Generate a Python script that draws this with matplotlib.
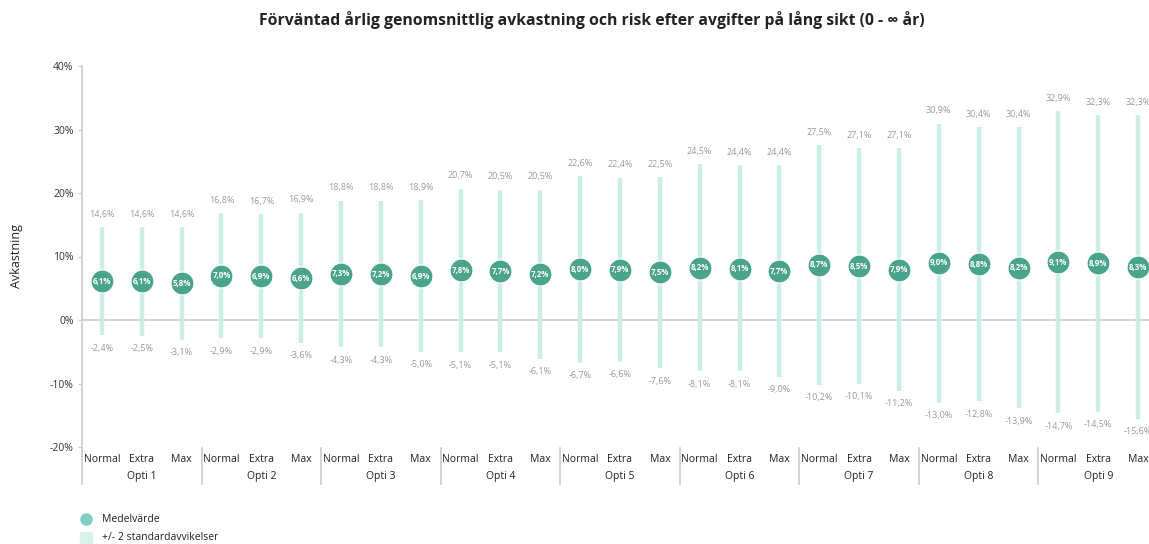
import matplotlib
matplotlib.use("Agg")
import matplotlib.pyplot as plt
from matplotlib.transforms import blended_transform_factory
from matplotlib.lines import Line2D

plt.rcParams['font.family'] = ['Open Sans', 'DejaVu Sans']

groups = ["Opti 1", "Opti 2", "Opti 3", "Opti 4", "Opti 5", "Opti 6", "Opti 7", "Opti 8", "Opti 9"]
variants = ["Normal", "Extra", "Max"]
means = [6.1, 6.1, 5.8, 7.0, 6.9, 6.6, 7.3, 7.2, 6.9, 7.8, 7.7, 7.2, 8.0, 7.9, 7.5,
         8.2, 8.1, 7.7, 8.7, 8.5, 7.9, 9.0, 8.8, 8.2, 9.1, 8.9, 8.3]
upper = [14.6, 14.6, 14.6, 16.8, 16.7, 16.9, 18.8, 18.8, 18.9, 20.7, 20.5, 20.5, 22.6, 22.4, 22.5,
         24.5, 24.4, 24.4, 27.5, 27.1, 27.1, 30.9, 30.4, 30.4, 32.9, 32.3, 32.3]
lower = [-2.4, -2.5, -3.1, -2.9, -2.9, -3.6, -4.3, -4.3, -5.0, -5.1, -5.1, -6.1, -6.7, -6.6, -7.6,
         -8.1, -8.1, -9.0, -10.2, -10.1, -11.2, -13.0, -12.8, -13.9, -14.7, -14.5, -15.6]
yticks = [-20, -10, 0, 10, 20, 30, 40]

bar_color = "#cdeee6"
dot_color = "#4aa38b"
grey = "#9a9a9a"

fig = plt.figure(figsize=(11.49, 5.44), dpi=100)
ax = fig.add_axes([82/1149, 97/544, (1158-82)/1149, 381/544])

def fmt(v):
    return f"{v:.1f}".replace(".", ",") + "%"

n = len(means)
xs = list(range(n))
ax.axhline(0, color="#cccccc", lw=1.2, zorder=1)
ax.vlines(xs, lower, upper, color=bar_color, lw=3.2, zorder=2)
ax.plot(xs, means, 'o', ms=16.5, color=dot_color, mec="white", mew=0.8, zorder=3)
for x, m, u, l in zip(xs, means, upper, lower):
    ax.text(x, m, fmt(m), ha="center", va="center", color="white", fontsize=5.7, fontweight="bold", zorder=4)
    ax.annotate(fmt(u), (x, u), xytext=(0, 6), textcoords="offset points", ha="center", va="bottom",
                color=grey, fontsize=6.5)
    ax.annotate(fmt(l), (x, l), xytext=(0, -6), textcoords="offset points", ha="center", va="top",
                color=grey, fontsize=6.5)

ax.set_xlim(-0.5, n - 0.5)
ax.set_ylim(-20, 40)
ax.set_yticks(yticks)
ax.set_yticklabels([f"{t}%" for t in yticks], fontsize=7.5, color="#333333")
ax.tick_params(axis="y", length=3, color="#cccccc", pad=3)
ax.set_xticks([])
for s in ["top", "right", "bottom"]:
    ax.spines[s].set_visible(False)
ax.spines["left"].set_color("#cccccc")
ax.spines["left"].set_linewidth(1.2)
ax.set_ylabel("Avkastning", fontsize=9, color="#222222", labelpad=19)

trans = blended_transform_factory(ax.transData, fig.transFigure)
for i in range(n):
    ax.text(i, 1 - 460/544, variants[i % 3], transform=trans, ha="center", va="center", fontsize=7.5, color="#222222")
for g, name in enumerate(groups):
    ax.text(3*g + 1, 1 - 476/544, name, transform=trans, ha="center", va="center", fontsize=7.5, color="#222222")
for g in range(len(groups) + 1):
    ax.add_line(Line2D([3*g - 0.5, 3*g - 0.5], [1 - 448/544, 1 - 484/544], transform=trans,
                       color="#cccccc", lw=1.2, clip_on=False))

fig.text(592/1149, 1 - 20/544, "Förväntad årlig genomsnittlig avkastning och risk efter avgifter på lång sikt (0 - ∞ år)",
         ha="center", va="center", fontsize=11.3, fontweight="bold", color="#222222")

# legend
fig.add_artist(Line2D([86/1149], [1 - 519/544], marker="o", ms=8, color="#7dcfc0", lw=0))
fig.text(102/1149, 1 - 519/544, "Medelvärde", va="center", fontsize=7.5, color="#222222")
fig.add_artist(Line2D([86/1149], [1 - 538/544], marker="s", ms=8, color="#dbf1ec", lw=0))
fig.text(102/1149, 1 - 538/544, "+/- 2 standardavvikelser", va="center", fontsize=7.5, color="#222222")

fig.savefig("out.png", dpi=100)
